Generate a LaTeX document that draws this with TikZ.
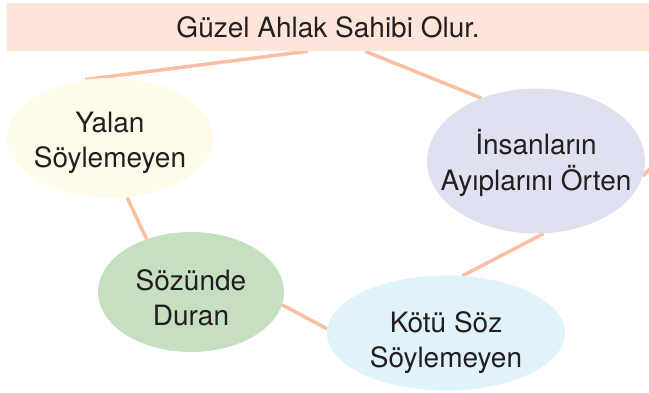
\documentclass[tikz,border=0pt]{standalone}
\usepackage{fontspec}
\setmainfont{TeX Gyre Heros}
\usepackage{tikz}
\usetikzlibrary{shapes.geometric}
\usetikzlibrary{backgrounds}

\definecolor{bannerfill}{HTML}{FDE5DA}
\definecolor{linkline}{HTML}{FBBEA2}
\definecolor{yalanfill}{HTML}{FEFBE9}
\definecolor{insanfill}{HTML}{E0E1F0}
\definecolor{sozfill}{HTML}{C6DFC1}
\definecolor{kotufill}{HTML}{E0F2FA}
\definecolor{textgray}{HTML}{231F20}

% two-line text that does not widen the bubble, lowered by #1
\newcommand{\bubbletext}[2][0pt]{\raisebox{-#1}[\height][\depth]{\makebox[0pt]{\begin{tabular}{@{}c@{}}#2\end{tabular}}}}

\tikzset{
	bigtext/.style={text=textgray, font=\fontsize{28}{35}\selectfont},
	bubble/.style={ellipse, inner sep=0pt, bigtext},
	link/.style={draw=linkline, line width=3.5pt},
}

\begin{document}
\begin{tikzpicture}[x=1pt, y=-1pt]
	\useasboundingbox (0, 0) rectangle (649, 392);

	\node [rectangle, fill=bannerfill, inner sep=0pt, minimum width=642, minimum height=48, bigtext] (banner) at (328, 27) {Güzel Ahlak Sahibi Olur.};

	\node [bubble, fill=yalanfill, minimum width=206, minimum height=120] (yalan) at (110, 138) {\bubbletext[5pt]{Yalan\\Söylemeyen}};
	\node [bubble, fill=insanfill, minimum width=218, minimum height=145] (insan) at (536, 161) {\bubbletext[4pt]{İnsanların\\Ayıplarını Örten}};
	\node [bubble, fill=sozfill, minimum width=186, minimum height=120] (sozunde) at (191, 292) {\bubbletext[9pt]{Sözünde\\Duran}};
	\node [bubble, fill=kotufill, minimum width=238, minimum height=115] (kotu) at (446, 333) {\bubbletext[10pt]{Kötü Söz\\Söylemeyen}};

	\coordinate (offright) at (666, 152);

	% connectors under the bubbles
	\begin{scope}[on background layer]
		\draw [link] ([xshift=-20]banner.south) -- (yalan.113);
		\draw [link] ([xshift=37]banner.south) -- (insan.131);
		\draw [link] (yalan.-74) -- (sozunde.130);
		\draw [link] (sozunde.-8) -- (kotu.178);
		\draw [link] (insan.-84) -- (kotu.74);
		\draw [link] (insan.-8) -- (offright);
	\end{scope}
\end{tikzpicture}
\end{document}
